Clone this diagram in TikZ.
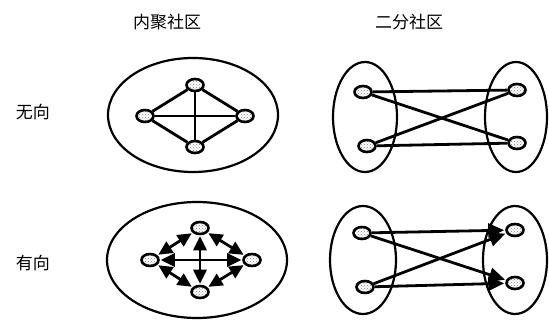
\documentclass[tikz,border=0pt]{standalone}
\usepackage{fontspec}
\newfontfamily\cjk{Noto Sans CJK SC}
\usetikzlibrary{shapes.geometric,arrows.meta,patterns}
\begin{document}
\begin{tikzpicture}[x=1pt,y=-1pt,
  vtx/.style={ellipse,draw=black,line width=2.6pt,minimum width=17pt,minimum height=12pt,inner sep=0pt,
    pattern=crosshatch dots,pattern color=gray},
  grp/.style={draw=black,line width=2.2pt},
  edge/.style={line width=2.8pt},
  bi/.style={edge,{Triangle[length=14pt,width=13pt]}-{Triangle[length=14pt,width=13pt]},shorten <=1pt,shorten >=1pt},
  uni/.style={edge,-{Triangle[length=16pt,width=14pt]},shorten >=1pt},
  lbl/.style={font=\cjk\fontsize{17}{17}\selectfont,inner sep=0pt}]
\useasboundingbox (0,0) rectangle (549,320);
% labels
\node[lbl] (h1) at (167,22) {内聚社区};
\node[lbl] (h2) at (409,22) {二分社区};
\node[lbl] (r1) at (33,112) {无向};
\node[lbl] (r2) at (33,263) {有向};
% top-left: undirected cohesive
\draw[grp] (193,115) ellipse [x radius=85,y radius=57];
\node[vtx] (a1) at (195,85) {};
\node[vtx] (a2) at (145,116) {};
\node[vtx] (a3) at (245,116) {};
\node[vtx] (a4) at (195,147) {};
\draw[edge] (a1) -- (a2); \draw[edge] (a1) -- (a3);
\draw[edge] (a4) -- (a2); \draw[edge] (a4) -- (a3);
\draw[edge] (a2) -- (a3); \draw[edge] (a1) -- (a4);
% top-right: undirected bipartite
\draw[grp] (365,117) ellipse [x radius=32,y radius=55];
\draw[grp] (516,117) ellipse [x radius=31,y radius=55];
\node[vtx] (b1) at (363,92) {};
\node[vtx] (b2) at (367,146) {};
\node[vtx] (b3) at (517,90) {};
\node[vtx] (b4) at (517,143) {};
\draw[edge] (b1) -- (b3); \draw[edge] (b1) -- (b4);
\draw[edge] (b2) -- (b3); \draw[edge] (b2) -- (b4);
% bottom-left: directed cohesive
\draw[grp] (197,260) ellipse [x radius=90,y radius=58];
\node[vtx] (c1) at (200,228) {};
\node[vtx] (c2) at (150,260) {};
\node[vtx] (c3) at (252,260) {};
\node[vtx] (c4) at (200,292) {};
\draw[bi] (c1) -- (c2); \draw[bi] (c1) -- (c3);
\draw[bi] (c4) -- (c2); \draw[bi] (c4) -- (c3);
\draw[bi] (c2) -- (c3); \draw[bi] (c1) -- (c4);
% bottom-right: directed bipartite
\draw[grp] (363,260) ellipse [x radius=33,y radius=54];
\draw[grp] (515,260) ellipse [x radius=32,y radius=54];
\node[vtx] (d1) at (362,233) {};
\node[vtx] (d2) at (365,287) {};
\node[vtx] (d3) at (515,230) {};
\node[vtx] (d4) at (515,283) {};
\draw[uni] (d1) -- (d3); \draw[uni] (d1) -- (d4);
\draw[uni] (d2) -- (d3); \draw[uni] (d2) -- (d4);
\end{tikzpicture}
\end{document}
